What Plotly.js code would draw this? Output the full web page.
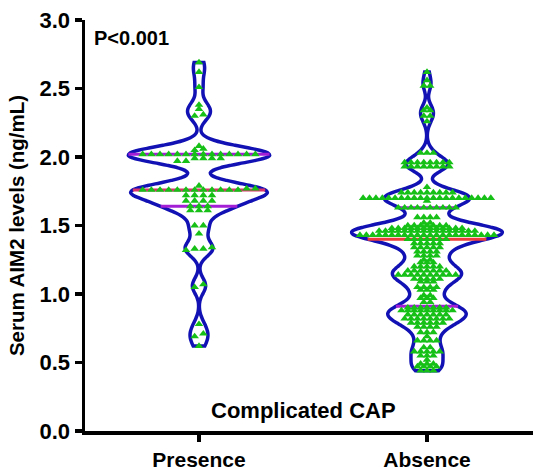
<!DOCTYPE html>
<html><head><meta charset="utf-8">
<script src="https://cdn.plot.ly/plotly-3.0.1.min.js"></script>
<style>html,body{margin:0;padding:0;background:#fff}#chart{width:533px;height:470px}</style>
</head><body><div id="chart"></div>
<script>
const categories = ['Presence', 'Absence'];

const presence = [
  2.69, 2.62, 2.51, 2.38, 2.35, 2.31, 2.30,
  2.08, 2.06, 2.05,
  2.02, 2.02, 2.02, 2.02, 2.02, 2.02, 2.02, 2.02, 2.02, 2.02, 2.02, 2.02, 2.02, 2.02,
  1.99, 1.99, 1.99, 1.99, 1.97, 1.97,
  1.79,
  1.77, 1.77, 1.76, 1.76, 1.76, 1.76, 1.76, 1.76, 1.76, 1.76, 1.76, 1.76, 1.76, 1.76,
  1.72, 1.72, 1.72, 1.72,
  1.68, 1.68, 1.68, 1.68,
  1.64, 1.64, 1.64,
  1.61, 1.61, 1.61,
  1.50, 1.50, 1.44, 1.34, 1.33, 1.33, 1.32,
  1.07, 1.05, 0.78, 0.71, 0.69, 0.62
];

const absence = [
  2.62, 2.56, 2.52, 2.52,
  2.36, 2.34, 2.34, 2.30, 2.30, 2.26,
  2.03, 2.03, 2.03,
  1.96, 1.96, 1.96, 1.96, 1.96, 1.96, 1.96, 1.96,
  1.93, 1.93, 1.93, 1.93, 1.93, 1.93, 1.93, 1.93,
  1.78,
  1.74, 1.74, 1.74, 1.74, 1.74, 1.74, 1.74, 1.74, 1.74,
  1.70, 1.70, 1.70, 1.70, 1.70, 1.70, 1.70, 1.70, 1.70, 1.70,
  1.70, 1.70, 1.70, 1.70, 1.70, 1.70, 1.70, 1.70, 1.70, 1.70, 1.70,
  1.68,
  1.63, 1.63, 1.63, 1.63, 1.63, 1.63, 1.63, 1.63, 1.63, 1.63,
  1.56, 1.56, 1.56, 1.56,
  1.52, 1.52,
  1.50, 1.50, 1.50, 1.50, 1.50, 1.50, 1.50,
  1.48, 1.48, 1.48, 1.48, 1.48, 1.48, 1.48, 1.48, 1.48, 1.48, 1.48, 1.48,
  1.46, 1.46, 1.46, 1.46, 1.46, 1.46, 1.46, 1.46, 1.46, 1.46, 1.46, 1.46, 1.46, 1.46, 1.46, 1.46,
  1.43, 1.43, 1.43, 1.43, 1.43, 1.43, 1.43, 1.43, 1.43, 1.43, 1.43,
  1.43, 1.43, 1.43, 1.43, 1.43, 1.43, 1.43, 1.43, 1.43, 1.43, 1.43,
  1.40, 1.40, 1.40, 1.40, 1.40, 1.40, 1.40,
  1.37, 1.37, 1.37, 1.37, 1.37,
  1.34, 1.34, 1.34, 1.34, 1.34,
  1.31, 1.31, 1.31, 1.31,
  1.28, 1.28, 1.28, 1.28,
  1.25, 1.25,
  1.23, 1.23, 1.23,
  1.20, 1.20, 1.20, 1.20, 1.20,
  1.17, 1.17, 1.17, 1.17, 1.17, 1.17, 1.17,
  1.14, 1.14, 1.14, 1.14, 1.14, 1.14, 1.14, 1.14, 1.14, 1.14,
  1.11, 1.11, 1.11, 1.11, 1.11,
  1.09, 1.09, 1.09,
  1.05, 1.05, 1.05, 1.05,
  1.03, 1.03, 1.03,
  0.99, 0.99,
  0.97, 0.97, 0.97,
  0.94, 0.94,
  0.90, 0.90, 0.90, 0.90, 0.90, 0.90, 0.90,
  0.88, 0.88, 0.88, 0.88, 0.88, 0.88, 0.88, 0.88, 0.88,
  0.85, 0.85, 0.85, 0.85, 0.85, 0.85, 0.85,
  0.82, 0.82, 0.82, 0.82, 0.82, 0.82, 0.82, 0.82,
  0.79, 0.79, 0.79, 0.79, 0.79, 0.79,
  0.76, 0.76, 0.76, 0.76,
  0.72, 0.72, 0.72,
  0.69,
  0.66, 0.66, 0.66, 0.66,
  0.61, 0.61,
  0.58, 0.58, 0.58, 0.58, 0.58,
  0.55, 0.55, 0.55,
  0.52,
  0.49, 0.49, 0.49,
  0.47, 0.47, 0.47, 0.47,
  0.44, 0.44, 0.44
];

const yTickVals = [0, 0.5, 1.0, 1.5, 2.0, 2.5, 3.0];
const yTickText = ['0.0', '0.5', '1.0', '1.5', '2.0', '2.5', '3.0'];
const yTitle = 'Serum AIM2 levels (ng/mL)';
const groupLabel = 'Complicated CAP';
const pLabel = 'P<0.001';

const FONT = 'Liberation Sans, Arial, Helvetica, sans-serif';
const outline = '#1212b4';
const pointColor = '#16c016';
const quartColor = '#a21fd6';

const groups = [
  {name: categories[0], vals: presence, pos: 0, bw: 0.055, width: 0.62, step: 0.038, tol: 0.025, medColor: '#d9336c'},
  {name: categories[1], vals: absence, pos: 1, bw: 0.05, width: 0.66, step: 0.028, tol: 0.005, medColor: '#ef3b3b'}
];

function kde(vals, bw, t) {
  let s = 0;
  for (const v of vals) { const z = (t - v) / bw; s += Math.exp(-0.5 * z * z); }
  return s / (vals.length * bw * Math.sqrt(2 * Math.PI));
}
function maxKde(vals, bw) {
  const lo = Math.min(...vals), hi = Math.max(...vals);
  const n = Math.ceil((hi - lo) / (bw / 3));
  const st = (hi - lo) / n;
  let m = 0;
  for (let k = 0; k <= n; k++) m = Math.max(m, kde(vals, bw, lo + k * st));
  return m;
}
function quantile(sorted, p) {
  const h = (sorted.length - 1) * p;
  const i = Math.floor(h);
  const f = h - i;
  return sorted[i] + (i + 1 < sorted.length ? f * (sorted[i + 1] - sorted[i]) : 0);
}

const traces = [];
const lineTraces = [];
const pointTraces = [];

groups.forEach(g => {
  traces.push({
    type: 'violin', x0: g.pos, y: g.vals, name: g.name,
    bandwidth: g.bw, spanmode: 'hard', scalemode: 'width', width: g.width,
    points: false, fillcolor: '#ffffff',
    line: {color: outline, width: 3.5},
    box: {visible: false}, meanline: {visible: false},
    hoverinfo: 'skip', showlegend: false
  });

  const sorted = [...g.vals].sort((a, b) => a - b);
  const mk = maxKde(g.vals, g.bw);
  const qs = [
    {p: 0.25, c: quartColor},
    {p: 0.75, c: quartColor},
    {p: 0.5, c: g.medColor}
  ];
  qs.forEach(q => {
    const yq = quantile(sorted, q.p);
    const hw = kde(g.vals, g.bw, yq) / mk * g.width / 2;
    lineTraces.push({
      type: 'scatter', mode: 'lines', x: [g.pos - hw, g.pos + hw], y: [yq, yq],
      line: {color: q.c, width: 3}, hoverinfo: 'skip', showlegend: false
    });
  });

  // beeswarm-like rows: nearby values spread horizontally
  const xs = [], ys = [];
  let i = 0;
  while (i < sorted.length) {
    let j = i;
    while (j + 1 < sorted.length && sorted[j + 1] - sorted[i] < g.tol) j++;
    const n = j - i + 1;
    for (let k = 0; k < n; k++) {
      xs.push(g.pos + (k - (n - 1) / 2) * g.step);
      ys.push(sorted[i + k]);
    }
    i = j + 1;
  }
  pointTraces.push({
    type: 'scatter', mode: 'markers', x: xs, y: ys,
    marker: {symbol: 'triangle-up', size: 7.5, color: pointColor, line: {width: 0}},
    hoverinfo: 'skip', showlegend: false
  });
});

const esc = s => s.replace(/&/g, '&amp;').replace(/</g, '&lt;').replace(/>/g, '&gt;');

const layout = {
  width: 533, height: 470,
  margin: {l: 85, r: 0, t: 20, b: 39},
  paper_bgcolor: '#ffffff', plot_bgcolor: '#ffffff',
  showlegend: false,
  font: {family: FONT, color: '#000000'},
  xaxis: {
    type: 'linear', range: [-0.5, 1.465],
    tickvals: [0, 1], ticktext: categories,
    tickfont: {family: FONT, size: 21, color: '#000', weight: 'bold'},
    showline: true, linecolor: '#000', linewidth: 3.5,
    ticks: 'outside', ticklen: 7, tickwidth: 3.5, tickcolor: '#000',
    showgrid: false, zeroline: false, fixedrange: true
  },
  yaxis: {
    range: [0, 3],
    tickvals: yTickVals, ticktext: yTickText,
    tickfont: {family: FONT, size: 22, color: '#000', weight: 'bold'},
    showline: true, linecolor: '#000', linewidth: 3.5,
    ticks: 'outside', ticklen: 7, tickwidth: 3.5, tickcolor: '#000',
    showgrid: false, zeroline: false, fixedrange: true,
    title: {text: yTitle, font: {family: FONT, size: 20.5, color: '#000', weight: 'bold'}, standoff: 10}
  },
  annotations: [
    {text: esc(pLabel), xref: 'paper', yref: 'paper', x: 0.016, y: 0.956,
     xanchor: 'left', yanchor: 'middle', showarrow: false,
     font: {family: FONT, size: 20, color: '#000', weight: 'bold'}},
    {text: groupLabel, xref: 'paper', yref: 'paper', x: 0.487, y: 0.051,
     xanchor: 'center', yanchor: 'middle', showarrow: false,
     font: {family: FONT, size: 22, color: '#000', weight: 'bold'}}
  ],
  hovermode: false
};

Plotly.newPlot('chart', traces.concat(lineTraces, pointTraces), layout, {displayModeBar: false, staticPlot: true});
</script>
</body></html>
